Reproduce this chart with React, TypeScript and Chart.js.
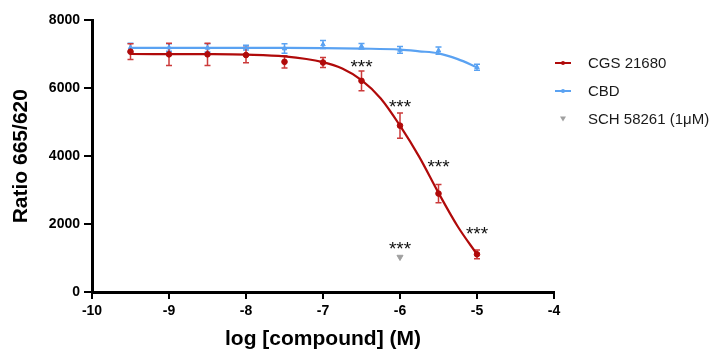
import { useEffect, useRef } from "react";
import { Chart, registerables } from "chart.js";
Chart.register(...registerables);

const FONT = "'Liberation Sans', Arial, Helvetica, sans-serif";

// Concentrations (log M)
const logDose = [-9.5, -9, -8.5, -8, -7.5, -7, -6.5, -6, -5.5, -5];
// CGS 21680 mean and SEM
const cgsMean = [7080, 7000, 7000, 6980, 6780, 6760, 6220, 4900, 2900, 1110];
const cgsSem = [230, 330, 330, 230, 180, 150, 290, 370, 270, 130];
// CBD mean and SEM
const cbdMean = [7200, 7200, 7190, 7200, 7170, 7290, 7240, 7130, 7110, 6620];
const cbdSem = [130, 110, 120, 70, 140, 120, 80, 100, 110, 90];
// SCH 58261 (1 µM)
const schDose = [-6];
const schMean = [1030];
// Fitted curves
const cgsFitX = [-9.5, -9, -8.5, -8, -7.5, -7, -6.75, -6.5, -6.25, -6, -5.75, -5.5, -5.25, -5];
const cgsFitY = [7010, 7008, 7005, 6990, 6940, 6770, 6580, 6240, 5700, 4900, 3980, 2920, 1930, 1110];
const cbdFitX = [-9.5, -9, -8.5, -8, -7.5, -7, -6.5, -6, -5.75, -5.5, -5.25, -5];
const cbdFitY = [7190, 7190, 7190, 7190, 7190, 7185, 7170, 7140, 7090, 7030, 6860, 6620];
// Significance marks
const starX = [-6.5, -6, -5.5, -5, -6];
const starY = [6780, 5600, 3840, 1870, 1415];
const starText = ["***", "***", "***", "***", "***"];
// Legend
const legendLabels = ["CGS 21680", "CBD", "SCH 58261 (1\u03bcM)"];

const RED = "#b00a0a";
const RED_ERR = "#cc3a3a";
const BLUE = "#5aa2f2";
const BLUE_ERR = "#5aa2f2";
const GREY = "#a0a0a0";

const overlayPlugin = {
  id: "overlay",
  beforeDatasetsDraw(chart: any) {
    const { ctx } = chart;
    const x = chart.scales.x;
    const y = chart.scales.y;
    const draw = (xs: number[], means: number[], sems: number[], color: string) => {
      ctx.save();
      ctx.strokeStyle = color;
      ctx.lineWidth = 1.5;
      xs.forEach((xv, i) => {
        const px = x.getPixelForValue(xv);
        const top = y.getPixelForValue(means[i] + sems[i]);
        const bot = y.getPixelForValue(means[i] - sems[i]);
        ctx.beginPath();
        ctx.moveTo(px, top);
        ctx.lineTo(px, bot);
        ctx.moveTo(px - 3, top);
        ctx.lineTo(px + 3, top);
        ctx.moveTo(px - 3, bot);
        ctx.lineTo(px + 3, bot);
        ctx.stroke();
      });
      ctx.restore();
    };
    draw(logDose, cbdMean, cbdSem, BLUE_ERR);
    draw(logDose, cgsMean, cgsSem, RED_ERR);
  },
  afterDatasetsDraw(chart: any) {
    const { ctx } = chart;
    const x = chart.scales.x;
    const y = chart.scales.y;
    ctx.save();
    ctx.fillStyle = "#111";
    ctx.font = `19px ${FONT}`;
    ctx.textAlign = "center";
    ctx.textBaseline = "alphabetic";
    starX.forEach((xv, i) => {
      ctx.fillText(starText[i], x.getPixelForValue(xv), y.getPixelForValue(starY[i]) + 11);
    });
    ctx.restore();

    // legend
    const lx = chart.chartArea.right + 1;
    const rows = [55, 83, 111];
    ctx.save();
    ctx.font = `15px ${FONT}`;
    ctx.fillStyle = "#1a1a1a";
    ctx.textBaseline = "middle";
    ctx.textAlign = "left";
    legendLabels.forEach((t, i) => {
      const cy = rows[i];
      const cx = lx + 8;
      if (i < 2) {
        ctx.strokeStyle = i === 0 ? RED : BLUE;
        ctx.lineWidth = 2;
        ctx.beginPath();
        ctx.moveTo(lx, cy);
        ctx.lineTo(lx + 16, cy);
        ctx.stroke();
        ctx.fillStyle = i === 0 ? RED : BLUE;
        ctx.beginPath();
        ctx.arc(cx, cy, 2, 0, Math.PI * 2);
        ctx.fill();
      } else {
        ctx.fillStyle = GREY;
        ctx.beginPath();
        ctx.moveTo(cx - 3, cy - 2.5);
        ctx.lineTo(cx + 3, cy - 2.5);
        ctx.lineTo(cx, cy + 2.5);
        ctx.closePath();
        ctx.fill();
      }
      ctx.fillStyle = "#1a1a1a";
      ctx.fillText(t, lx + 33, cy + 1);
    });
    ctx.restore();
  },
};

export default function App() {
  const ref = useRef<HTMLCanvasElement | null>(null);
  useEffect(() => {
    if (!ref.current) return;
    const chart = new Chart(ref.current, {
      type: "scatter",
      data: {
        datasets: [
          {
            label: "CGS 21680",
            data: logDose.map((d, i) => ({ x: d, y: cgsMean[i] })),
            backgroundColor: RED,
            borderColor: RED,
            pointRadius: 2.8,
            pointStyle: "circle",
            showLine: false,
          },
          {
            label: "CGS fit",
            data: cgsFitX.map((d, i) => ({ x: d, y: cgsFitY[i] })),
            borderColor: RED,
            borderWidth: 2.2,
            pointRadius: 0,
            showLine: true,
            cubicInterpolationMode: "monotone",
          },
          {
            label: "CBD",
            data: logDose.map((d, i) => ({ x: d, y: cbdMean[i] })),
            backgroundColor: BLUE,
            borderColor: BLUE,
            pointRadius: 2.6,
            pointStyle: "triangle",
            showLine: false,
          },
          {
            label: "CBD fit",
            data: cbdFitX.map((d, i) => ({ x: d, y: cbdFitY[i] })),
            borderColor: BLUE,
            borderWidth: 2.2,
            pointRadius: 0,
            showLine: true,
            cubicInterpolationMode: "monotone",
          },
          {
            label: "SCH 58261 (1\u03bcM)",
            data: schDose.map((d, i) => ({ x: d, y: schMean[i] })),
            backgroundColor: GREY,
            borderColor: GREY,
            pointRadius: 3.5,
            pointStyle: "triangle",
            rotation: 180,
            showLine: false,
          },
        ],
      },
      options: {
        animation: false,
        responsive: false,
        events: [],
        layout: { autoPadding: false, padding: { top: 5, right: 159, left: 0, bottom: 0 } },
        plugins: { legend: { display: false }, tooltip: { enabled: false } },
        scales: {
          x: {
            type: "linear",
            min: -10,
            max: -4,
            ticks: {
              stepSize: 1,
              color: "#000",
              padding: 4,
              font: { family: FONT, weight: "bold", size: 14 },
              callback: (v: any) => String(v),
            },
            grid: { drawOnChartArea: false, drawTicks: true, tickLength: 7, color: "#000", lineWidth: 2 },
            border: { color: "#000", width: 3 },
            title: {
              display: true,
              text: "log [compound] (M)",
              color: "#000",
              font: { family: FONT, weight: "bold", size: 21 },
              padding: { top: 0, bottom: 2 },
            },
            afterFit: (s: any) => {
              s.height = 62;
            },
          },
          y: {
            type: "linear",
            min: 0,
            max: 8000,
            ticks: {
              stepSize: 2000,
              color: "#000",
              padding: 4,
              font: { family: FONT, weight: "bold", size: 14 },
              callback: (v: any) => String(v),
            },
            grid: { drawOnChartArea: false, drawTicks: true, tickLength: 8, color: "#000", lineWidth: 2 },
            border: { color: "#000", width: 3 },
            title: {
              display: true,
              text: "Ratio 665/620",
              color: "#000",
              font: { family: FONT, weight: "bold", size: 21 },
              padding: { top: 1, bottom: 0 },
            },
            afterFit: (s: any) => {
              s.width = 84;
            },
          },
        },
      },
      plugins: [overlayPlugin],
    } as any);
    return () => chart.destroy();
  }, []);
  return <canvas ref={ref} width={705} height={346} style={{ display: "block" }} />;
}
